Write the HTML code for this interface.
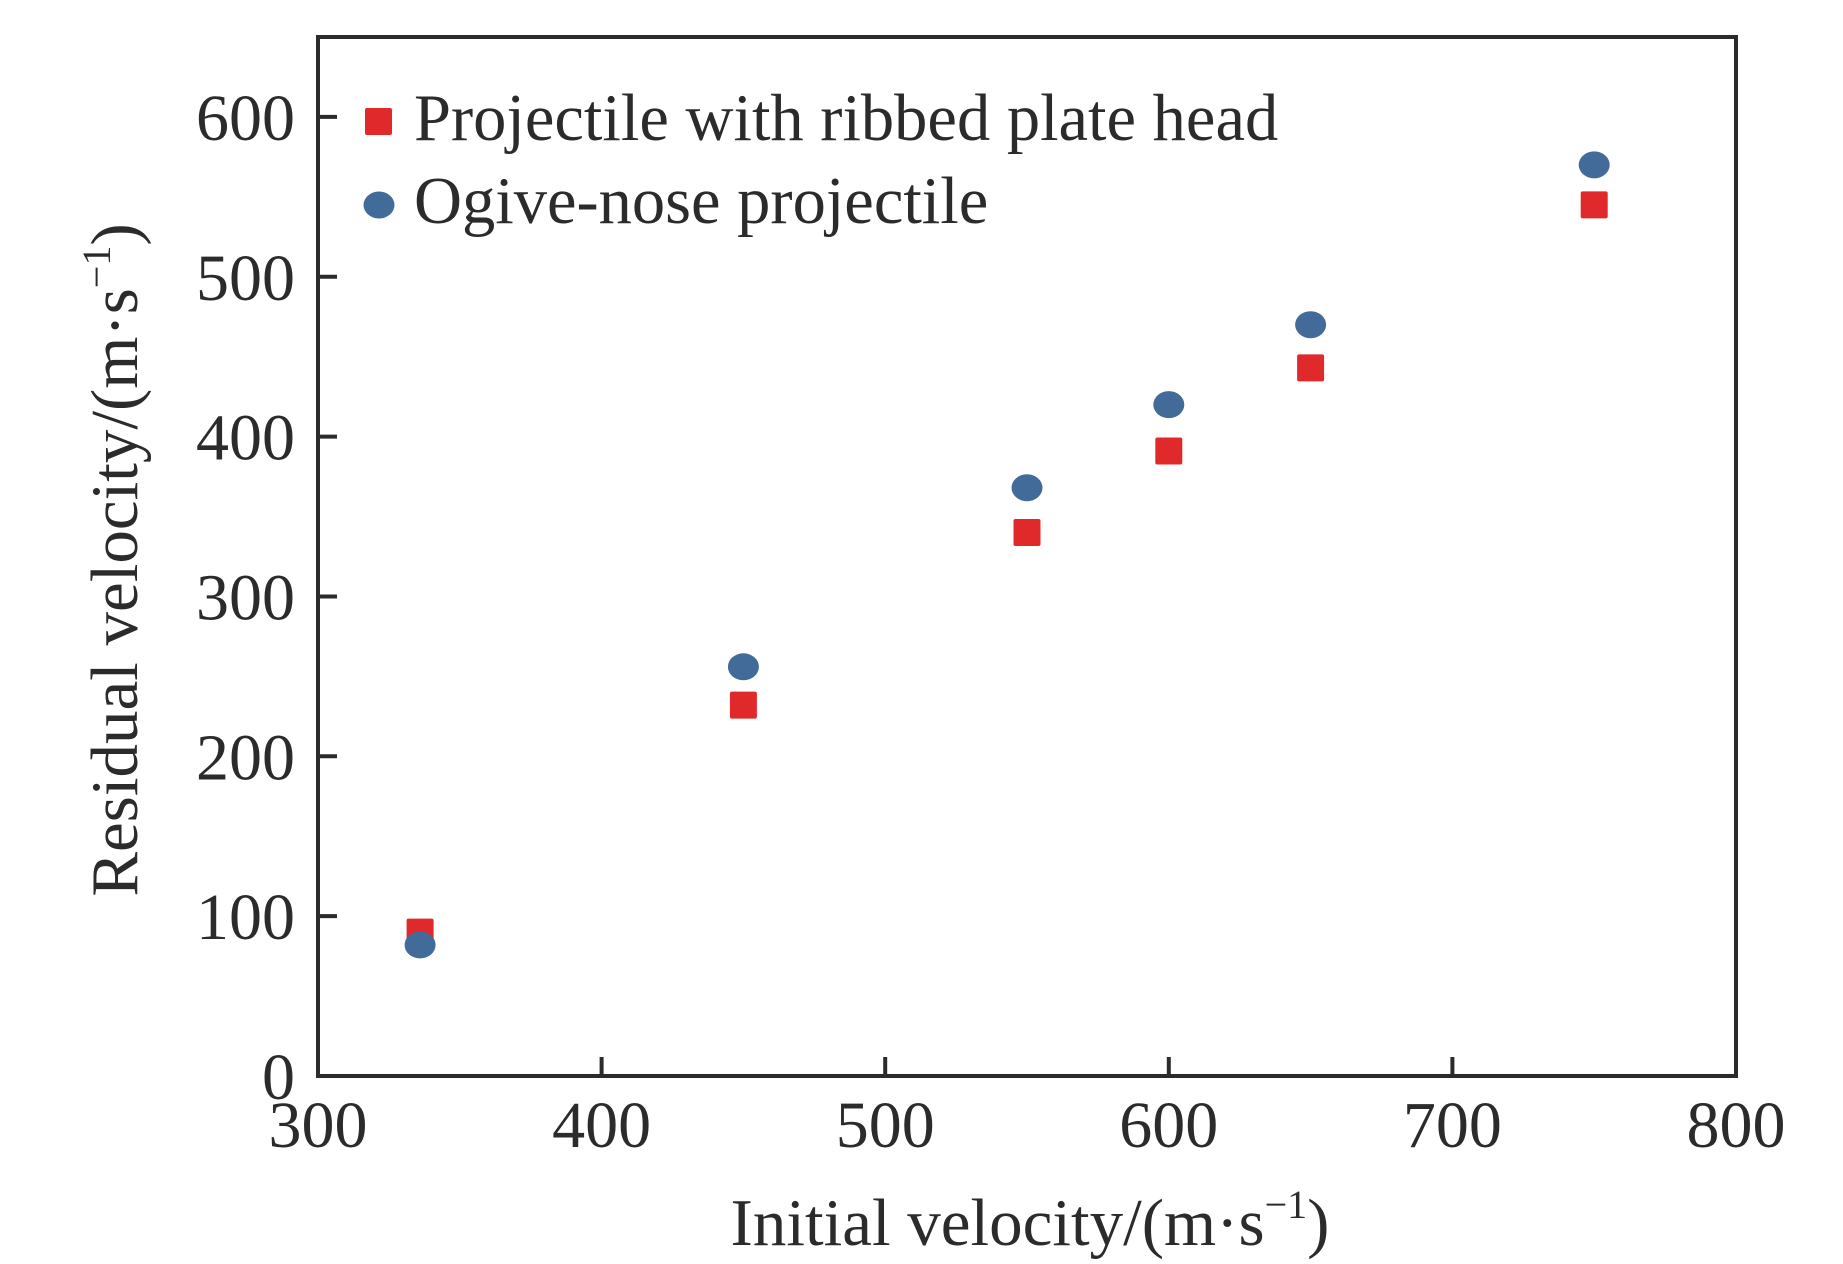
<!DOCTYPE html>
<html><head><meta charset="utf-8"><style>
html,body{margin:0;padding:0;background:#fff;}
svg{display:block;font-family:"Liberation Serif","Times New Roman",serif;}
</style></head><body>
<svg id="chart" width="1843" height="1264" viewBox="0 0 1843 1264" xmlns="http://www.w3.org/2000/svg">
<g id="marks"></g>
</svg>
<script>
const xTicks = [300, 400, 500, 600, 700, 800];
const yTicks = [0, 100, 200, 300, 400, 500, 600];
const initialVelocity = [336, 450, 550, 600, 650, 750];
const ribbedResidual = [90, 232, 340, 391, 443, 545];
const ogiveResidual = [82, 256, 368, 420, 470, 570];
const seriesNames = ["Projectile with ribbed plate head", "Ogive-nose projectile"];

const L = 318, R = 1736, T = 37, B = 1076;
const xMin = 300, xMax = 800, yMin = 0, yMax = 650;
function xs(v){ return L + (v - xMin) / (xMax - xMin) * (R - L); }
function ys(v){ return B - (v - yMin) / (yMax - yMin) * (B - T); }

const svg = document.getElementById('chart');
const NS = 'http://www.w3.org/2000/svg';
function mk(tag, attrs, parent){
  const e = document.createElementNS(NS, tag);
  for (const k in attrs) e.setAttribute(k, attrs[k]);
  (parent || svg).appendChild(e);
  return e;
}
const ink = '#2b2b2b';

const frame = mk('rect', {x:L, y:T, width:R-L, height:B-T, fill:'none', stroke:ink, 'stroke-width':4});



xTicks.forEach(v => {
  const x = xs(v);
  if (v !== xMin && v !== xMax) {
    const t = mk('line', {x1:x, x2:x, y1:B, y2:B-19, stroke:ink, 'stroke-width':4});
    
    
  }
  const lb = mk('text', {x:x, y:1147, 'text-anchor':'middle', 'font-size':66, fill:ink});
  lb.textContent = v;
  
  
});
yTicks.forEach(v => {
  const y = ys(v);
  if (v !== yMin) {
    const t = mk('line', {x1:L, x2:L+19, y1:y, y2:y, stroke:ink, 'stroke-width':4});
    
    
  }
  const lb = mk('text', {x:295, y:y+23, 'text-anchor':'end', 'font-size':66, fill:ink});
  lb.textContent = v;
  
  
});

const g = document.getElementById('marks');


initialVelocity.forEach((v, i) => {
  const s = mk('rect', {x:xs(v)-13.5, y:ys(ribbedResidual[i])-13.5, width:27, height:27, rx:2, fill:'#e0292b'}, g);
  
  
});
initialVelocity.forEach((v, i) => {
  const c = mk('ellipse', {cx:xs(v), cy:ys(ogiveResidual[i]), rx:15.5, ry:13.5, fill:'#436b9a'}, g);
  
  
});

// legend
const ls = mk('rect', {x:365, y:108, width:27, height:27, rx:2, fill:'#e0292b'});


const lt1 = mk('text', {x:414, y:140, 'font-size':66.5, fill:ink});
lt1.textContent = seriesNames[0];


const lc = mk('ellipse', {cx:379, cy:205, rx:15.5, ry:13.5, fill:'#436b9a'});


const lt2 = mk('text', {x:414, y:223, 'font-size':66.5, fill:ink});
lt2.textContent = seriesNames[1];



// axis titles
const xt = mk('text', {x:1030, y:1245, 'text-anchor':'middle', 'font-size':67, fill:ink});
xt.innerHTML = 'Initial velocity/(m·s<tspan dy="-27" font-size="40">−1</tspan><tspan dy="27">)</tspan>';


const yt = mk('text', {x:0, y:0, 'text-anchor':'middle', 'font-size':67, fill:ink, transform:'translate(137,560) rotate(-90)'});
yt.innerHTML = 'Residual velocity/(m·s<tspan dy="-27" font-size="40">−1</tspan><tspan dy="27">)</tspan>';


</script>
</body></html>
